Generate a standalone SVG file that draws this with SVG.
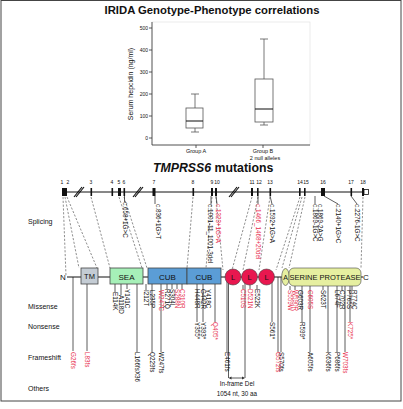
<svg xmlns="http://www.w3.org/2000/svg" width="403" height="409" viewBox="0 0 403 409">
<style>
text{font-family:"Liberation Sans",Arial,sans-serif;fill:#111}
.ax{stroke:#333;stroke-width:0.8;fill:none}
.tk{font-size:5px}
.ex{fill:#111}
.dash{stroke:#444;stroke-width:0.6;stroke-dasharray:2.2 1.6;fill:none}
.ml{stroke:#333;stroke-width:0.8;fill:none}
.lab{font-size:6.3px}
.red{fill:#e8304f}
.row{font-size:7px}
</style>
<rect x="1" y="0.5" width="400" height="400.5" fill="#fff" stroke="#444" stroke-width="1"/>
<g id="chart">
<text x="212" y="14" font-size="11.3" font-weight="bold" text-anchor="middle">IRIDA Genotype-Phenotype correlations</text>
<rect x="152" y="22" width="158" height="123" fill="none" stroke="#ddd" stroke-width="0.6"/>
<line class="ax" x1="152" y1="22" x2="152" y2="145"/>
<line class="ax" x1="152" y1="145" x2="310" y2="145"/>
<g class="ax"><line x1="149" y1="28" x2="152" y2="28"/><line x1="149" y1="50" x2="152" y2="50"/><line x1="149" y1="72" x2="152" y2="72"/><line x1="149" y1="94" x2="152" y2="94"/><line x1="149" y1="116" x2="152" y2="116"/><line x1="149" y1="138" x2="152" y2="138"/><line x1="196" y1="145" x2="196" y2="148"/><line x1="263" y1="145" x2="263" y2="148"/></g>
<g class="tk" text-anchor="end"><text x="148" y="30">500</text><text x="148" y="52">400</text><text x="148" y="74">300</text><text x="148" y="96">200</text><text x="148" y="118">100</text><text x="148" y="140">0</text></g>
<text transform="translate(133,84) rotate(-90)" font-size="7" text-anchor="middle">Serum hepcidin (ng/ml)</text>
<g stroke="#555" stroke-width="0.8" fill="none">
<line x1="195" y1="94" x2="195" y2="108"/><line x1="191" y1="94" x2="199" y2="94"/>
<rect x="186" y="108" width="17" height="20"/>
<line x1="195" y1="128" x2="195" y2="132"/><line x1="191" y1="132" x2="199" y2="132"/>
<line x1="186" y1="121" x2="203" y2="121" stroke="#222" stroke-width="1.1"/>
<line x1="264" y1="39" x2="264" y2="79"/><line x1="260" y1="39" x2="268" y2="39"/>
<rect x="255" y="79" width="18" height="43"/>
<line x1="264" y1="122" x2="264" y2="125"/><line x1="260" y1="125" x2="268" y2="125"/>
<line x1="255" y1="109" x2="273" y2="109" stroke="#222" stroke-width="1.1"/>
</g>
<g font-size="5.5" text-anchor="middle"><text x="196" y="153">Group A</text><text x="263" y="153">Group B</text><text x="265" y="160">2 null alleles</text></g>
</g>
<text x="153" y="172" font-size="12.3" font-weight="bold"><tspan font-style="italic">TMPRSS6</tspan> mutations</text>
<g id="gene">
<line x1="62" y1="192" x2="364" y2="192" stroke="#111" stroke-width="1"/>
<rect class="ex" x="62" y="188" width="5" height="8"/>
<rect class="ex" x="90.5" y="188" width="1.6" height="8"/>
<rect class="ex" x="111.5" y="188" width="1.6" height="8"/>
<rect class="ex" x="118" y="188" width="3" height="8"/>
<rect class="ex" x="123.5" y="188" width="1.6" height="8"/>
<rect class="ex" x="152.5" y="188" width="3" height="8"/>
<rect class="ex" x="192.5" y="188" width="1.6" height="8"/>
<rect class="ex" x="211" y="188" width="2" height="8"/>
<rect class="ex" x="215" y="188" width="2" height="8"/>
<rect class="ex" x="251" y="188" width="2" height="8"/>
<rect class="ex" x="257" y="188" width="1.6" height="8"/>
<rect class="ex" x="269.5" y="188" width="1.6" height="8"/>
<rect class="ex" x="299" y="188" width="1.6" height="8"/>
<rect class="ex" x="304" y="188" width="1.6" height="8"/>
<rect class="ex" x="321" y="188" width="4" height="8"/>
<rect class="ex" x="350.5" y="188" width="1.6" height="8"/>
<rect class="ex" x="362" y="188" width="2" height="8"/>
<rect x="364" y="189.5" width="4.5" height="5" fill="#fff" stroke="#111" stroke-width="0.8"/>
<g stroke="#111" stroke-width="1.2"><line x1="74" y1="197" x2="82" y2="187"/><line x1="76" y1="197" x2="84" y2="187"/><line x1="133" y1="197" x2="141" y2="187"/><line x1="135" y1="197" x2="143" y2="187"/><line x1="229" y1="197" x2="237" y2="187"/><line x1="231" y1="197" x2="239" y2="187"/></g>
<g font-size="5" text-anchor="middle"><text x="62" y="184">1</text><text x="68" y="184">2</text><text x="91" y="184">3</text><text x="112" y="184">4</text><text x="119" y="184">5</text><text x="124" y="184">6</text><text x="154" y="184">7</text><text x="193" y="184">8</text><text x="212" y="184">9</text><text x="217" y="184">10</text><text x="252" y="184">11</text><text x="259" y="184">12</text><text x="270" y="184">13</text><text x="300" y="184">14</text><text x="306" y="184">15</text><text x="323" y="184">16</text><text x="351" y="184">17</text><text x="363" y="184">18</text></g>
</g>
<g id="connectors">
<g class="dash">
<line x1="63" y1="197" x2="66" y2="276"/><line x1="65" y1="197" x2="79" y2="268"/><line x1="67" y1="197" x2="97" y2="268"/>
<line x1="91" y1="197" x2="110" y2="268"/><line x1="119" y1="197" x2="142" y2="268"/><line x1="124" y1="197" x2="147" y2="268"/>
<line x1="193" y1="197" x2="187" y2="268"/><line x1="212" y1="197" x2="206" y2="268"/><line x1="216" y1="197" x2="223" y2="270"/>
<line x1="252" y1="197" x2="232" y2="270"/><line x1="258" y1="197" x2="243" y2="270"/><line x1="270" y1="197" x2="259" y2="270"/>
<line x1="300" y1="197" x2="276" y2="270"/><line x1="302" y1="197" x2="282" y2="268"/><line x1="305" y1="197" x2="289" y2="268"/>
<line x1="363" y1="197" x2="361" y2="268"/>
</g>
<g class="ml">
<line x1="124.5" y1="196" x2="124.5" y2="202"/><line x1="155" y1="196" x2="155" y2="204"/><line x1="211" y1="196" x2="211" y2="204"/><line x1="216" y1="196" x2="217" y2="204"/>
<line x1="258" y1="196" x2="258" y2="204"/><line x1="270" y1="196" x2="272" y2="204"/><line x1="315" y1="196" x2="315" y2="204"/><line x1="324" y1="196" x2="338" y2="204"/><line x1="351" y1="196" x2="357" y2="204"/>
</g>
<g class="ml">
<line x1="73" y1="277" x2="73" y2="351"/><line x1="87" y1="284" x2="87" y2="351"/>
<line x1="115" y1="284" x2="115" y2="292"/><line x1="121" y1="284" x2="121" y2="295"/><line x1="127" y1="284" x2="127" y2="289"/>
<line x1="137" y1="277" x2="137" y2="352"/><line x1="146" y1="284" x2="146" y2="290"/>
<line x1="152" y1="284" x2="152" y2="352"/><line x1="161" y1="284" x2="161" y2="352"/><line x1="167" y1="284" x2="167" y2="289"/><line x1="172" y1="284" x2="172" y2="289"/><line x1="177" y1="284" x2="177" y2="289"/><line x1="182" y1="284" x2="182" y2="289"/><line x1="197" y1="284" x2="197" y2="322"/>
<line x1="203" y1="284" x2="203" y2="322"/><line x1="215" y1="284" x2="215" y2="322"/>
<line x1="227" y1="277" x2="227" y2="352"/><line x1="228.5" y1="277" x2="228.5" y2="378"/><line x1="245" y1="277" x2="245" y2="378"/>
<line x1="243" y1="285" x2="243" y2="289"/><line x1="250" y1="285" x2="250" y2="289"/><line x1="257" y1="285" x2="257" y2="289"/><line x1="272" y1="277" x2="272" y2="322"/>
<line x1="278" y1="277" x2="278" y2="352"/><line x1="281" y1="277" x2="281" y2="352"/>
<line x1="290" y1="286" x2="290" y2="290"/><line x1="295" y1="286" x2="295" y2="290"/><line x1="302" y1="286" x2="302" y2="322"/><line x1="310" y1="286" x2="310" y2="352"/>
<line x1="323" y1="286" x2="323" y2="290"/><line x1="328" y1="286" x2="328" y2="352"/><line x1="337" y1="286" x2="337" y2="352"/><line x1="342" y1="286" x2="342" y2="290"/><line x1="345" y1="286" x2="345" y2="352"/><line x1="350" y1="286" x2="350" y2="322"/><line x1="352" y1="286" x2="352" y2="290"/>
</g>
<line x1="230" y1="378" x2="243.5" y2="378" stroke="#333" stroke-width="0.8"/>
<path d="M228.5 378 l3 -1.5 v3 z M245 378 l-3 -1.5 v3 z" fill="#333"/>
</g>
<g id="protein">
<line x1="67" y1="277" x2="363" y2="277" stroke="#111" stroke-width="1"/>
<text x="60" y="280" font-size="8">N</text>
<text x="363" y="280" font-size="8">C</text>
</g>
<g id="TM"><rect x="81" y="268" width="17" height="16" fill="#c4ccd4" stroke="#444" stroke-width="0.8"/><text x="89.5" y="279" font-size="7.5" text-anchor="middle">TM</text></g>
<g id="SEA"><rect x="110" y="268" width="33" height="16" fill="#a6f0b8" stroke="#444" stroke-width="0.8"/><text x="126.5" y="279.5" font-size="8" text-anchor="middle">SEA</text></g>
<g id="CUB1"><rect x="148" y="268" width="39" height="16" fill="#5b9dd6" stroke="#444" stroke-width="0.8"/><text x="167.5" y="279.5" font-size="8" text-anchor="middle">CUB</text></g>
<g id="CUB2"><rect x="187" y="268" width="34" height="16" fill="#5b9dd6" stroke="#444" stroke-width="0.8"/><text x="204" y="279.5" font-size="8" text-anchor="middle">CUB</text></g>
<g id="L1"><circle cx="233" cy="277" r="8" fill="#e8174f" stroke="#444" stroke-width="0.6"/><text x="233" y="280" font-size="7.5" text-anchor="middle" fill="#fff">L</text></g>
<g id="L2"><circle cx="249.5" cy="277" r="8" fill="#e8174f" stroke="#444" stroke-width="0.6"/><text x="249.5" y="280" font-size="7.5" text-anchor="middle" fill="#fff">L</text></g>
<g id="L3"><circle cx="266.5" cy="277" r="8" fill="#e8174f" stroke="#444" stroke-width="0.6"/><text x="266.5" y="280" font-size="7.5" text-anchor="middle" fill="#fff">L</text></g>
<g id="A"><ellipse cx="285.5" cy="277" rx="3.8" ry="8.5" fill="#e6efa0" stroke="#444" stroke-width="0.6"/><text x="285.5" y="280" font-size="7" text-anchor="middle">A</text></g>
<g id="SP"><rect x="289" y="268" width="72" height="18" rx="5" fill="#e6efa0" stroke="#444" stroke-width="0.6"/><text x="325" y="280" font-size="7.5" text-anchor="middle">SERINE PROTEASE</text></g>
<g id="rowlabels" class="row"><text x="28" y="224">Splicing</text><text x="28" y="309">Missense</text><text x="28" y="329">Nonsense</text><text x="28" y="360">Frameshift</text><text x="28" y="391">Others</text></g>
<g id="splicing" class="lab">
<text transform="translate(123,202) rotate(90)">c.658+1G&gt;C</text>
<text transform="translate(156,204) rotate(90)">c.836+1G&gt;T</text>
<text transform="translate(208,204) rotate(90)">c.1001-11_1001-3del</text>
<text class="red" transform="translate(215.5,204) rotate(90)">c.1323+1G&gt;A</text>
<text class="red" transform="translate(256,204) rotate(90)">c.1466_1468+20del</text>
<text transform="translate(270,204) rotate(90)">c.1592+1G&gt;A</text>
<text transform="translate(313,204) rotate(90)">c.1869-1G&gt;C</text>
<text transform="translate(318,204) rotate(90)">c.1869-2A&gt;G</text>
<text transform="translate(336,204) rotate(90)">c.2140+1G&gt;C</text>
<text transform="translate(355,204) rotate(90)">c.2276-1G&gt;C</text>
</g>
<g id="missense" class="lab">
<text transform="translate(113,292) rotate(90)">E114K</text>
<text transform="translate(119,295) rotate(90)">A118D</text>
<text transform="translate(125,289) rotate(90)">Y141C</text>
<text transform="translate(144,290) rotate(90)">I212T</text>
<text transform="translate(150,290) rotate(90)">L235P</text>
<text class="red" transform="translate(159,290) rotate(90)">W247C</text>
<text transform="translate(165,289) rotate(90)">R271Q</text>
<text transform="translate(170,289) rotate(90)">S304L</text>
<text class="red" transform="translate(175,289) rotate(90)">S288N</text>
<text class="red" transform="translate(180,289) rotate(90)">C310R</text>
<text transform="translate(195,289) rotate(90)">H448R</text>
<text transform="translate(201,289) rotate(90)">G442R</text>
<text transform="translate(206,289) rotate(90)">Y418C</text>
<text class="red" transform="translate(241,289) rotate(90)">C510S</text>
<text class="red" transform="translate(248,289) rotate(90)">D521N</text>
<text transform="translate(255,289) rotate(90)">E522K</text>
<text class="red" transform="translate(288,290) rotate(90)">S559W</text>
<text class="red" transform="translate(293,290) rotate(90)">W590R</text>
<text transform="translate(298,290) rotate(90)">G603R</text>
<text class="red" transform="translate(308,290) rotate(90)">C605S</text>
<text transform="translate(321,290) rotate(90)">S623T</text>
<text transform="translate(335,290) rotate(90)">L674F</text>
<text transform="translate(340,290) rotate(90)">C702R</text>
<text transform="translate(347,290) rotate(90)">P765S</text>
<text transform="translate(352,290) rotate(90)">R774C</text>
</g>
<g id="nonsense" class="lab">
<text transform="translate(195,322) rotate(90)">Y355*</text>
<text transform="translate(201,322) rotate(90)">Y393*</text>
<text class="red" transform="translate(213,322) rotate(90)">Q405*</text>
<text transform="translate(270,322) rotate(90)">S561*</text>
<text transform="translate(300,322) rotate(90)">R599*</text>
<text class="red" transform="translate(348,322) rotate(90)">K725*</text>
</g>
<g id="frameshift" class="lab">
<text class="red" transform="translate(71,352) rotate(90)">G26fs</text>
<text class="red" transform="translate(85,352) rotate(90)">L83fs</text>
<text transform="translate(135,352) rotate(90)">L166fsX36</text>
<text transform="translate(150,352) rotate(90)">Q229fs</text>
<text transform="translate(159,352) rotate(90)">W247fs</text>
<text transform="translate(225,352) rotate(90)">E461fs</text>
<text class="red" transform="translate(276,352) rotate(90)">G572fs</text>
<text transform="translate(279,352) rotate(90)">S570fs</text>
<text transform="translate(308,352) rotate(90)">A605fs</text>
<text transform="translate(326,352) rotate(90)">K636fs</text>
<text transform="translate(335,352) rotate(90)">P686fs</text>
<text class="red" transform="translate(343,352) rotate(90)">W703fs</text>
</g>
<g id="others" font-size="6.3" text-anchor="middle"><text x="237" y="386">In-frame Del</text><text x="237" y="396">1054 nt, 30 aa</text></g>
</svg>
